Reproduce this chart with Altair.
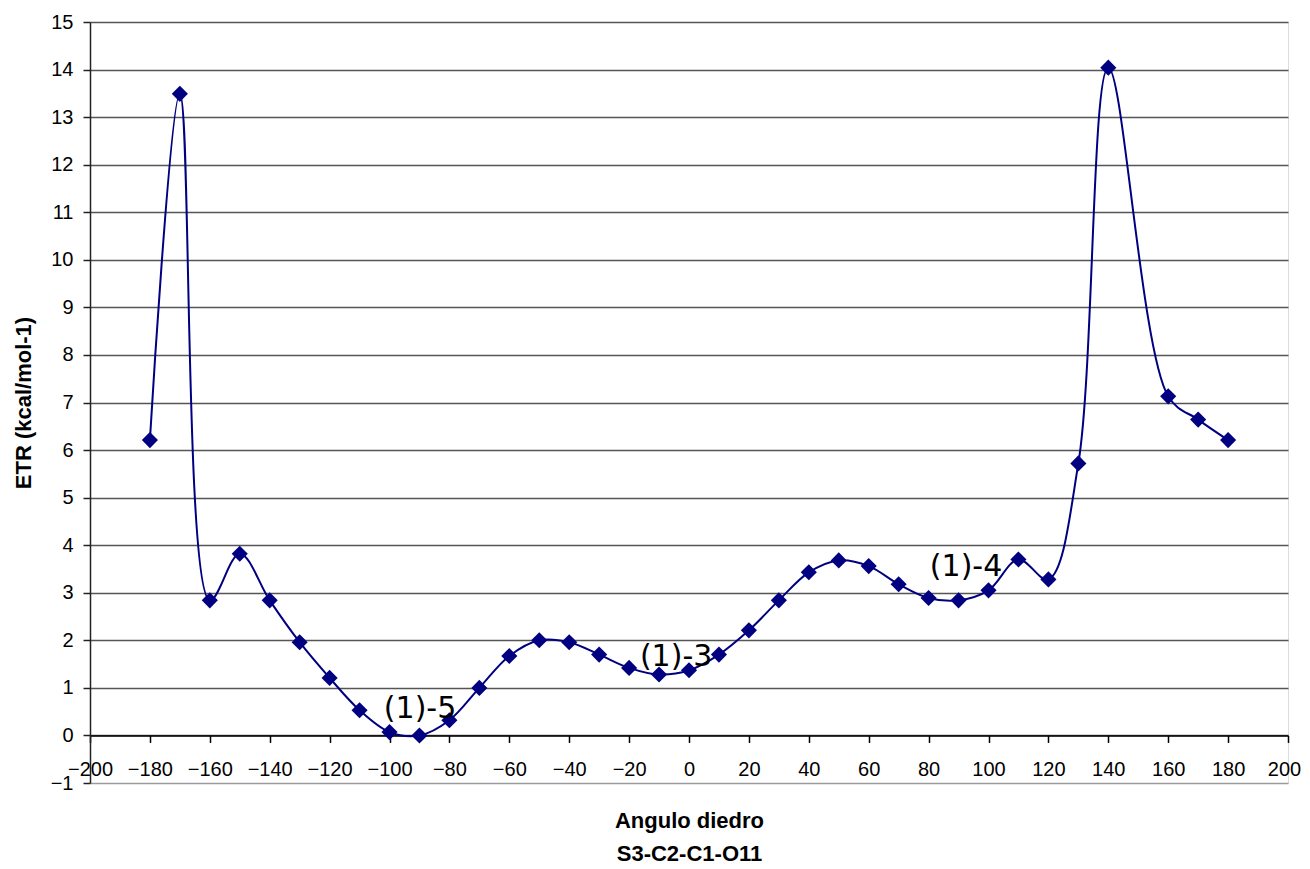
import altair as alt
import pandas as pd

angles = [-180, -170, -160, -150, -140, -130, -120, -110, -100, -90, -80, -70,
          -60, -50, -40, -30, -20, -10, 0, 10, 20, 30, 40, 50, 60, 70, 80, 90,
          100, 110, 120, 130, 140, 160, 170, 180]
etr = [6.21, 13.49, 2.84, 3.82, 2.84, 1.96, 1.21, 0.53, 0.07, 0.0, 0.32, 1.0,
       1.67, 2.0, 1.96, 1.70, 1.42, 1.28, 1.37, 1.70, 2.21, 2.84, 3.43, 3.68,
       3.56, 3.18, 2.89, 2.84, 3.05, 3.70, 3.28, 5.72, 14.04, 7.13, 6.64, 6.21]

note_text = ["(1)-5", "(1)-3", "(1)-4"]
note_x = [-89.8, -4.3, 92.5]
note_y = [0.36, 1.45, 3.35]

x_ticks = list(range(-200, 201, 20))
y_ticks = list(range(-1, 16))

W, H = 1198, 761
FONT = "Liberation Sans"

df = pd.DataFrame({"angle": angles, "etr": etr})
notes = pd.DataFrame({"t": note_text, "x": note_x, "y": note_y})

x_scale = alt.Scale(domain=[-200, 200], nice=False, zero=False)
y_scale = alt.Scale(domain=[-1, 15], nice=False, zero=False)

x_axis = alt.Axis(
    values=x_ticks, title=["Angulo diedro", "S3-C2-C1-O11"],
    offset=-H / 16, grid=False, domainColor="#000000", domainWidth=1.5,
    tickColor="#000000", tickSize=7, tickWidth=1.5,
    labelFont=FONT, labelFontSize=20, labelColor="#000000",
    labelBaseline="alphabetic", labelPadding=33, labelFlush=False,
    labelOverlap=False,
    labelOffset=alt.condition("datum.value == 200", alt.value(-4), alt.value(0)),
    titleFont=FONT, titleFontSize=22, titleFontWeight="bold",
    titleColor="#000000", titleLineHeight=33, titleBaseline="alphabetic",
    titleY=92, titleX=W / 2,
)
y_axis = alt.Axis(
    values=y_ticks, title="ETR (kcal/mol-1)", grid=True,
    gridColor=alt.condition("datum.value < 0", alt.value("#9a9a9a"), alt.value("#555555")),
    gridWidth=1.5,
    domainColor="#222222", domainWidth=1.5, tickColor="#222222", tickSize=7,
    tickWidth=1.5, labelFont=FONT, labelFontSize=20, labelColor="#000000",
    labelPadding=10, labelFlush=False, labelOverlap=False,
    titleFont=FONT, titleFontSize=22, titleFontWeight="bold",
    titleColor="#000000", titleX=-67, titleY=H / 2, titleBaseline="middle",
    titleAngle=270,
)

line = alt.Chart(df).mark_line(
    color="#000080", strokeWidth=2, interpolate="catmull-rom"
).encode(
    x=alt.X("angle:Q", scale=x_scale, axis=x_axis),
    y=alt.Y("etr:Q", scale=y_scale, axis=y_axis),
)
points = alt.Chart(df).mark_point(
    shape="diamond", filled=True, size=260, color="#000080", opacity=1
).encode(x=alt.X("angle:Q", scale=x_scale), y=alt.Y("etr:Q", scale=y_scale))

labels = alt.Chart(notes).mark_text(
    font="DejaVu Sans", fontSize=30, color="#000000", align="center",
    baseline="alphabetic"
).encode(
    x=alt.X("x:Q", scale=x_scale), y=alt.Y("y:Q", scale=y_scale), text="t:N"
)

chart = alt.layer(line, points, labels).properties(
    width=W, height=H,
    autosize=alt.AutoSizeParams(type="none"),
    padding={"left": 82, "top": 14, "right": 14, "bottom": 88},
).configure_view(
    stroke="#8c8c8c", strokeWidth=2
).configure(background="#ffffff")

chart.save("out.html", embed_options={"renderer": "svg", "actions": False})
